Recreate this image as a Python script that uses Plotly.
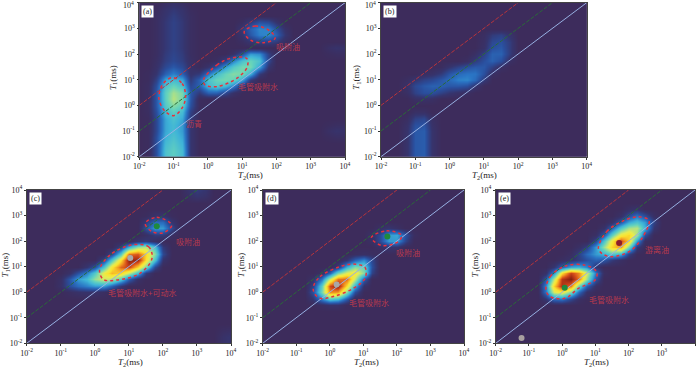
import plotly.graph_objects as go

# log10 grid of the maps, quarter-decade steps; rows below run from T1=10^4 down to 10^-2
LOG_T2 = [-2 + 0.25 * i for i in range(25)]
LOG_T1 = [4 - 0.25 * i for i in range(25)]

Z_A = [
    [0,0,0,2,4,2,0,0,0,0,0,0,0,0,0,0,0,0,0,0,0,0,0,0,0],
    [0,0,1,5,7,5,1,0,0,0,0,0,0,0,0,0,0,0,0,0,0,0,0,0,0],
    [0,0,2,6,9,6,2,0,0,0,0,0,0,0,0,0,0,0,0,0,0,0,0,0,0],
    [0,0,2,7,10,7,2,0,0,0,0,0,2,8,14,12,5,0,0,0,0,0,0,0,0],
    [0,0,2,7,10,7,2,0,0,0,0,0,8,18,25,24,14,4,0,0,0,0,0,0,0],
    [0,0,2,7,10,7,2,0,0,0,0,0,6,16,24,25,18,6,0,0,0,0,0,0,0],
    [0,0,2,7,10,7,2,0,0,0,0,0,2,6,10,10,8,2,0,0,0,0,0,0,0],
    [0,0,2,7,10,7,2,0,0,0,0,0,0,0,0,0,0,0,0,0,0,0,3,5,4],
    [0,0,2,8,11,8,2,0,0,0,0,4,14,28,26,10,0,0,0,0,0,0,1,2,2],
    [0,0,3,9,12,9,3,0,0,2,10,24,36,42,36,12,0,0,0,0,0,0,0,0,0],
    [0,0,4,12,16,12,4,0,5,14,28,38,44,44,30,6,0,0,0,0,0,0,0,0,0],
    [0,1,6,18,24,18,5,8,22,34,42,46,44,32,8,0,0,0,0,0,0,0,0,0,0],
    [0,1,10,30,34,30,8,18,36,42,44,42,30,8,0,0,0,0,0,0,0,0,0,0,0],
    [0,2,14,36,42,36,12,18,34,38,34,24,8,0,0,0,0,0,0,0,0,0,0,0,0],
    [0,2,16,40,50,44,16,8,18,18,12,4,0,0,0,0,0,0,0,0,0,0,0,0,0],
    [0,2,16,40,52,44,16,1,0,0,0,0,0,0,0,0,0,0,0,0,0,0,0,0,0],
    [0,2,16,38,46,40,14,1,0,0,0,0,0,0,0,0,0,0,0,0,0,0,0,0,0],
    [0,2,14,34,40,34,10,0,0,0,0,0,0,0,0,0,0,0,0,0,0,0,0,0,0],
    [0,1,12,30,36,30,8,0,0,0,0,0,0,0,0,0,0,0,0,0,0,0,0,0,0],
    [0,1,12,30,34,28,6,0,0,0,0,0,0,0,0,0,0,0,0,0,0,0,1,2,2],
    [0,1,12,30,34,28,6,0,0,0,0,0,0,0,0,0,0,0,0,0,0,0,3,5,4],
    [0,1,14,32,36,30,6,0,0,0,0,0,0,0,0,0,0,0,0,0,0,0,1,2,2],
    [0,1,14,34,38,32,6,0,0,0,0,0,0,0,0,0,0,0,0,0,0,0,0,0,0],
    [0,1,14,36,40,34,6,0,0,0,0,0,0,0,0,0,0,0,0,0,0,0,0,0,0],
    [0,1,14,36,40,34,6,0,0,0,0,0,0,0,0,0,0,0,0,0,0,0,0,0,0],
]

Z_B = [
    [0,0,0,0,0,0,0,0,0,0,0,0,0,0,0,0,0,0,0,0,0,0,0,0,0],
    [0,0,0,0,0,0,0,0,0,0,0,0,0,0,0,0,0,0,0,0,0,0,0,0,0],
    [0,0,0,0,0,0,0,0,0,0,0,0,0,0,0,0,0,0,0,0,0,0,0,0,0],
    [0,0,0,0,0,0,0,0,0,0,0,0,0,0,0,0,0,0,0,0,0,0,0,0,0],
    [0,0,0,0,0,0,0,0,0,0,0,0,0,0,0,0,0,0,0,0,0,0,0,0,0],
    [0,0,0,0,0,0,0,0,0,0,0,0,2,8,10,5,0,0,0,0,0,0,0,0,0],
    [0,0,0,0,0,0,0,0,0,0,0,0,3,12,14,8,0,0,0,0,0,0,0,0,0],
    [0,0,0,0,0,0,0,0,0,0,0,0,4,14,16,8,0,0,0,0,0,0,0,0,0],
    [0,0,0,0,0,0,0,0,0,0,0,3,10,18,18,8,0,0,0,0,0,0,0,0,0],
    [0,0,0,0,0,0,0,0,0,0,2,8,14,18,14,3,0,0,0,0,0,0,0,0,0],
    [0,0,0,0,0,0,0,1,6,10,14,16,16,10,3,0,0,0,0,0,0,0,0,0,0],
    [0,0,0,0,0,2,4,8,16,20,22,22,14,3,0,0,0,0,0,0,0,0,0,0,0],
    [0,0,0,2,6,10,12,16,20,24,25,20,8,0,0,0,0,0,0,0,0,0,0,0,0],
    [0,0,0,4,12,16,18,18,16,16,14,6,0,0,0,0,0,0,0,0,0,0,0,0,0],
    [0,0,0,3,10,14,14,10,6,4,2,0,0,0,0,0,0,0,0,0,0,0,0,0,0],
    [0,0,0,0,3,4,3,0,0,0,0,0,0,0,0,0,0,0,0,0,0,0,0,0,0],
    [0,0,0,0,0,0,0,0,0,0,0,0,0,0,0,0,0,0,0,0,0,0,0,0,0],
    [0,0,0,0,3,3,0,0,0,0,0,0,0,0,0,0,0,0,0,0,0,0,0,0,0],
    [0,0,0,2,10,12,3,0,0,0,0,0,0,0,0,0,0,0,0,0,0,0,0,0,0],
    [0,0,0,4,14,15,4,0,0,0,0,0,0,0,0,0,0,0,0,0,0,0,0,0,0],
    [0,0,0,5,16,17,5,0,0,0,0,0,0,0,0,0,0,0,0,0,0,0,0,0,0],
    [0,0,0,5,16,17,5,0,0,0,0,0,0,0,0,0,0,0,0,0,0,0,0,0,0],
    [0,0,0,5,16,17,5,0,0,0,0,0,0,0,0,0,0,0,0,0,0,0,0,0,0],
    [0,0,0,5,16,17,5,0,0,0,0,0,0,0,0,0,0,0,0,0,0,0,0,0,0],
    [0,0,0,5,16,17,5,0,0,0,0,0,0,0,0,0,0,0,0,0,0,0,0,0,0],
]

Z_C = [
    [0,0,0,0,0,0,0,0,0,0,0,0,0,0,0,0,0,0,0,5,8,6,0,0,0],
    [0,0,0,0,0,0,0,0,0,0,0,0,0,0,0,0,0,0,0,3,6,4,0,0,0],
    [0,0,0,0,0,0,0,0,0,0,0,0,0,0,0,0,0,0,0,0,0,0,0,0,0],
    [0,0,0,0,0,0,0,0,0,0,0,0,0,0,0,0,0,0,0,0,0,0,0,0,0],
    [0,0,0,0,0,0,0,0,0,0,0,0,0,0,1,5,6,1,0,0,0,0,0,0,0],
    [0,0,0,0,0,0,0,0,0,0,0,0,0,0,8,20,20,6,0,0,0,0,0,0,0],
    [0,0,0,0,0,0,0,0,0,0,0,0,0,0,14,28,28,12,0,0,0,0,0,0,0],
    [0,0,0,0,0,0,0,0,0,0,0,0,0,0,3,8,8,2,0,0,0,0,0,0,0],
    [0,0,0,0,0,0,0,0,0,0,0,0,0,6,8,3,0,0,0,0,0,0,0,0,0],
    [0,0,0,0,0,0,0,0,0,0,0,10,32,48,52,36,8,0,0,0,0,0,0,0,0],
    [0,0,0,0,0,0,0,0,0,0,12,38,80,84,68,46,12,0,0,0,0,0,0,0,0],
    [0,0,0,0,0,0,0,0,0,12,38,66,96,94,66,36,5,0,0,0,0,0,0,0,0],
    [0,0,0,0,0,0,0,6,14,36,64,82,88,68,44,12,0,0,0,0,0,0,0,0,0],
    [0,0,0,0,0,4,14,24,38,60,72,68,54,34,8,0,0,0,0,0,0,0,0,0,0],
    [0,0,0,0,3,16,28,34,48,56,52,38,18,4,0,0,0,0,0,0,0,0,0,0,0],
    [0,0,0,0,4,14,20,24,28,28,18,7,0,0,0,0,0,0,0,0,0,0,0,0,0],
    [0,0,0,0,0,2,4,5,4,2,0,0,0,0,0,0,0,0,0,0,0,0,0,0,0],
    [0,0,0,0,0,0,0,0,0,0,0,0,0,0,0,0,0,0,0,0,0,0,0,0,0],
    [0,0,0,0,0,0,0,0,0,0,0,0,0,0,0,0,0,0,0,0,0,0,0,0,0],
    [0,0,0,0,0,0,0,0,0,0,0,0,0,0,0,0,0,0,0,0,0,0,0,0,0],
    [0,0,0,0,0,0,0,0,0,0,0,0,0,0,0,0,0,0,0,0,0,0,0,0,0],
    [0,0,0,0,0,0,0,0,0,0,0,0,0,0,0,0,0,0,0,0,0,0,0,0,0],
    [0,0,0,0,0,0,0,0,0,0,0,0,0,0,0,0,0,0,0,0,0,0,0,2,3],
    [0,0,0,0,0,0,0,0,0,0,0,0,0,0,0,0,0,0,0,0,0,0,0,4,6],
    [0,0,0,0,0,0,0,0,0,0,0,0,0,0,0,0,0,0,0,0,0,0,0,4,6],
]

Z_D = [
    [0,0,0,0,0,0,0,0,0,0,0,0,0,0,0,0,0,0,0,0,0,0,0,0,0],
    [0,0,0,0,0,0,0,0,0,0,0,0,0,0,0,0,0,0,0,0,0,0,0,0,0],
    [0,0,0,0,0,0,0,0,0,0,0,0,0,0,0,0,0,0,0,0,0,0,0,0,0],
    [0,0,0,0,0,0,0,0,0,0,0,0,0,0,0,0,0,0,0,0,0,0,0,0,0],
    [0,0,0,0,0,0,0,0,0,0,0,0,0,0,0,0,0,0,0,0,0,0,0,0,0],
    [0,0,0,0,0,0,0,0,0,0,0,0,0,0,0,0,0,0,0,0,0,0,0,0,0],
    [0,0,0,0,0,0,0,0,0,0,0,0,0,0,3,6,3,0,0,0,0,0,0,0,0],
    [0,0,0,0,0,0,0,0,0,0,0,0,0,4,12,28,30,14,2,0,0,0,0,0,0],
    [0,0,0,0,0,0,0,0,0,0,0,0,0,3,12,28,28,10,0,0,0,0,0,0,0],
    [0,0,0,0,0,0,0,0,0,0,0,0,0,0,3,6,5,0,0,0,0,0,0,0,0],
    [0,0,0,0,0,0,0,0,0,0,0,2,3,2,0,0,0,0,0,0,0,0,0,0,0],
    [0,0,0,0,0,0,0,0,0,0,6,18,26,12,0,0,0,0,0,0,0,0,0,0,0],
    [0,0,0,0,0,0,0,0,0,8,32,46,42,14,0,0,0,0,0,0,0,0,0,0,0],
    [0,0,0,0,0,0,0,3,18,44,58,64,46,10,0,0,0,0,0,0,0,0,0,0,0],
    [0,0,0,0,0,0,4,22,54,80,82,54,18,0,0,0,0,0,0,0,0,0,0,0,0],
    [0,0,0,0,0,0,10,40,86,96,66,32,4,0,0,0,0,0,0,0,0,0,0,0,0],
    [0,0,0,0,0,0,14,44,78,76,46,14,0,0,0,0,0,0,0,0,0,0,0,0,0],
    [0,0,0,0,0,0,6,24,38,34,16,0,0,0,0,0,0,0,0,0,0,0,0,0,0],
    [0,0,0,0,0,0,0,2,4,4,0,0,0,0,0,0,0,0,0,0,0,0,0,0,0],
    [0,0,0,0,0,0,0,0,0,0,0,0,0,0,0,0,0,0,0,0,0,0,0,0,0],
    [0,0,0,0,0,0,0,0,0,0,0,0,0,0,0,0,0,0,0,0,0,0,0,0,0],
    [0,0,0,0,0,0,0,0,0,0,0,0,0,0,0,0,0,0,0,0,0,0,0,0,0],
    [0,0,0,0,0,0,0,0,0,0,0,0,0,0,0,0,0,0,0,0,0,0,0,0,0],
    [0,0,0,0,0,0,0,0,0,0,0,0,0,0,0,0,0,0,0,0,0,0,0,0,0],
    [0,0,0,0,0,0,0,0,0,0,0,0,0,0,0,0,0,0,0,0,0,0,0,0,0],
]

Z_E = [
    [0,0,0,0,0,0,0,0,0,0,0,0,0,0,0,0,0,0,0,0,0,0,0,0,0],
    [0,0,0,0,0,0,0,0,0,0,0,0,0,0,0,0,0,0,0,0,0,0,0,0,0],
    [0,0,0,0,0,0,0,0,0,0,0,0,0,0,0,0,0,0,0,0,0,0,0,0,0],
    [0,0,0,0,0,0,0,0,0,0,0,0,0,0,0,0,3,5,0,0,0,0,0,0,0],
    [0,0,0,0,0,0,0,0,0,0,0,0,0,0,0,4,14,22,14,3,0,0,0,0,0],
    [0,0,0,0,0,0,0,0,0,0,0,0,0,0,4,16,30,36,28,10,0,0,0,0,0],
    [0,0,0,0,0,0,0,0,0,0,0,0,0,4,18,38,50,52,32,6,0,0,0,0,0],
    [0,0,0,0,0,0,0,0,0,0,0,0,3,16,40,62,68,50,14,0,0,0,0,0,0],
    [0,0,0,0,0,0,0,0,0,0,0,0,12,36,62,86,68,28,2,0,0,0,0,0,0],
    [0,0,0,0,0,0,0,0,0,0,3,10,28,48,68,76,44,8,0,0,0,0,0,0,0],
    [0,0,0,0,0,0,0,0,0,2,10,20,28,32,38,32,10,0,0,0,0,0,0,0,0],
    [0,0,0,0,0,0,0,0,2,5,9,14,18,16,8,3,0,0,0,0,0,0,0,0,0],
    [0,0,0,0,0,0,0,6,18,30,32,25,6,0,0,0,0,0,0,0,0,0,0,0,0],
    [0,0,0,0,0,0,4,25,66,88,78,56,22,2,0,0,0,0,0,0,0,0,0,0,0],
    [0,0,0,0,0,0,15,52,90,98,80,48,15,0,0,0,0,0,0,0,0,0,0,0,0],
    [0,0,0,0,0,0,25,68,92,80,42,18,3,0,0,0,0,0,0,0,0,0,0,0,0],
    [0,0,0,0,0,0,22,56,62,45,20,4,0,0,0,0,0,0,0,0,0,0,0,0,0],
    [0,0,0,0,0,0,6,20,22,12,3,0,0,0,0,0,0,0,0,0,0,0,0,0,0],
    [0,0,0,0,0,0,0,0,0,0,0,0,0,0,0,0,0,0,0,0,0,0,0,0,0],
    [0,0,0,0,0,0,0,0,0,0,0,0,0,0,0,0,0,0,0,0,0,0,0,0,0],
    [0,0,0,0,0,0,0,0,0,0,0,0,0,0,0,0,0,0,0,0,0,0,0,0,0],
    [0,0,0,0,0,0,0,0,0,0,0,0,0,0,0,0,0,0,0,0,0,0,0,0,0],
    [0,0,0,0,0,0,0,0,0,0,0,0,0,0,0,0,0,0,0,0,0,0,0,0,0],
    [0,0,0,0,0,0,0,0,0,0,0,0,0,0,0,0,0,0,0,0,0,0,0,0,0],
    [0,0,0,0,0,0,0,0,0,0,0,0,0,0,0,0,0,0,0,0,0,0,0,0,0],
]

# dotted outlines, (log10 T2, log10 T1)
OUTLINES_A = [
    [(-1.04,1.08),(-0.75,0.85),(-0.65,0.34),(-0.75,-0.1),(-1.0,-0.4),(-1.27,-0.2),(-1.43,0.3),(-1.3,0.85)],
    [(-0.13,0.99),(0.26,1.57),(0.65,1.83),(1.13,1.83),(1.15,1.5),(0.84,1.05),(0.26,0.73),(-0.08,0.79)],
    [(1.06,2.87),(1.38,3.09),(1.81,2.9),(1.96,2.61),(1.62,2.44),(1.23,2.55)],
]
OUTLINES_C = [
    [(1.48,2.69),(1.82,2.93),(2.26,2.63),(2.02,2.33),(1.68,2.37)],
    [(1.09,1.85),(1.58,1.78),(1.68,1.32),(1.33,0.74),(0.65,0.48),(0.25,0.5),(0.14,0.87),(0.45,1.46)],
]
OUTLINES_D = [
    [(1.24,2.14),(1.69,2.4),(2.14,2.23),(2.04,1.98),(1.54,1.83)],
    [(-0.49,0.22),(-0.29,0.61),(0.3,1.0),(0.7,1.1),(1.05,0.97),(1.05,0.54),(0.7,0.15),(0.1,-0.17),(-0.29,-0.24),(-0.46,-0.04)],
]
OUTLINES_E = [
    [(1.09,1.72),(1.34,2.37),(1.89,2.82),(2.29,2.95),(2.61,2.82),(2.54,2.43),(2.09,1.65),(1.49,1.39),(1.19,1.52)],
    [(-0.49,0.09),(-0.36,0.61),(0.09,1.02),(0.69,1.06),(1.04,0.8),(0.99,0.48),(0.49,0.15),(0.09,-0.24),(-0.36,-0.17)],
]

# peak dots (T2, T1, colour)
PEAKS_C = [(66, 380, "#1f8a3c"), (11, 22, "#a8a8a8")]
PEAKS_D = [(52, 150, "#1f8a3c"), (1.6, 2, "#a8a8a8")]
PEAKS_E = [(1.2, 1.5, "#1f8a3c"), (52, 85, "#8c1c2c"), (0.06, 0.016, "#a8a0a0")]

# region labels (log10 T2, log10 T1, text)
LABELS_A = [(2.35, 2.29, "吸附油"), (1.47, 0.73, "毛管吸附水"), (-0.4, -0.7, "沥青")]
LABELS_C = [(2.75, 2.0, "吸附油"), (1.38, -0.02, "毛管吸附水+可动水")]
LABELS_D = [(2.33, 1.56, "吸附油"), (1.17, -0.42, "毛管吸附水")]
LABELS_E = [(2.86, 1.68, "游离油"), (1.42, -0.28, "毛管吸附水")]

TICK_POWERS = [-2, -1, 0, 1, 2, 3, 4]
# T1/T2 ratio lines
RATIOS = [(100, "#b8343c", "4px,1.5px"), (10, "#2a6a38", "4px,1.5px"), (1, "#97b0e2", "solid")]

COLORS = [
    [0.0, "#3d2c5c"], [0.06, "#36356f"], [0.14, "#2a4f9e"], [0.22, "#2a74c4"],
    [0.32, "#3fb4d8"], [0.42, "#66d4bc"], [0.5, "#a8e08c"], [0.58, "#e8ec50"],
    [0.66, "#fbe32e"], [0.76, "#f49a22"], [0.86, "#d2481a"], [0.94, "#9c2a14"],
    [1.0, "#6e1c10"],
]
SERIF = "Liberation Serif"
CJK = "Noto Sans CJK SC"
W, H = 700, 372

# panel name, left, right, top, bottom in px, title shifts, then its data
PANELS = [
    ("(a)", 139.3, 345, 2.7, 156.7, 8, -26, Z_A, OUTLINES_A, [], LABELS_A),
    ("(b)", 381, 586.7, 2.7, 156.7, 1, -24, Z_B, [], [], []),
    ("(c)", 26.7, 231, 190, 343.3, 2, -21, Z_C, OUTLINES_C, PEAKS_C, LABELS_C),
    ("(d)", 262.7, 464, 190, 343.3, 3, -21, Z_D, OUTLINES_D, PEAKS_D, LABELS_D),
    ("(e)", 495.7, 695, 190, 343.3, 1, -20, Z_E, OUTLINES_E, PEAKS_E, LABELS_E),
]

fig = go.Figure()
layout = {}
tickvals = [10.0**p for p in TICK_POWERS]
ticktext = ["10<sup>%d</sup>" % p for p in TICK_POWERS]
title_font = dict(family=SERIF, size=9, color="#222222")
tick_font = dict(family=SERIF, size=8, color="#222222")

for n, (name, left, right, top, bottom, xt, yt, z, outlines, peaks, labels) in enumerate(PANELS):
    sfx = "" if n == 0 else str(n + 1)
    xa, ya = "x" + sfx, "y" + sfx

    fig.add_trace(go.Heatmap(
        x=[10**v for v in LOG_T2], y=[10**v for v in LOG_T1], z=z,
        colorscale=COLORS, zmin=0, zmax=100, zsmooth="best", showscale=False,
        xaxis=xa, yaxis=ya,
    ))

    for ratio, color, dash in RATIOS:
        fig.add_trace(go.Scatter(
            x=[0.01, 10000 / ratio], y=[0.01 * ratio, 10000], mode="lines",
            line=dict(color=color, width=1, dash=dash),
            showlegend=False, xaxis=xa, yaxis=ya,
        ))

    for pts in outlines:
        closed = pts + pts[:1]
        fig.add_trace(go.Scatter(
            x=[10**p[0] for p in closed], y=[10**p[1] for p in closed], mode="lines",
            line=dict(color="#e8303c", width=1.5, dash="dot", shape="spline"),
            showlegend=False, xaxis=xa, yaxis=ya,
        ))

    if peaks:
        fig.add_trace(go.Scatter(
            x=[p[0] for p in peaks], y=[p[1] for p in peaks], mode="markers",
            marker=dict(color=[p[2] for p in peaks], size=6),
            showlegend=False, xaxis=xa, yaxis=ya,
        ))

    axis = dict(
        type="log", tickmode="array", tickvals=tickvals, ticktext=ticktext,
        ticks="outside", ticklen=2, tickwidth=0.6, tickcolor="#333333", automargin=False,
        showgrid=False, zeroline=False, showline=True, linecolor="#444444", linewidth=0.6,
        mirror=True, tickfont=tick_font,
    )
    layout["xaxis" + sfx] = dict(axis, domain=[left / W, right / W], range=[-2, 4], anchor=ya)
    layout["yaxis" + sfx] = dict(axis, domain=[1 - bottom / H, 1 - top / H], range=[-2, 4], anchor=xa)

    # top tick label of the upper row gets lost at the page edge, so place it by hand
    if top < 10:
        layout["yaxis" + sfx]["ticktext"] = ticktext[:-1] + [""]
        fig.add_annotation(
            x=0, y=1, xref=xa + " domain", yref=ya + " domain", text=ticktext[-1],
            showarrow=False, xanchor="right", yanchor="middle", xshift=-3, yshift=-2, font=tick_font,
        )

    # axis titles as annotations, the built-in ones collide between panels
    fig.add_annotation(
        x=0.5, y=0, xref=xa + " domain", yref=ya + " domain", text="<i>T</i><sub>2</sub>(ms)",
        showarrow=False, xanchor="center", yanchor="middle", xshift=xt, yshift=-19, font=title_font,
    )
    fig.add_annotation(
        x=0, y=0.5, xref=xa + " domain", yref=ya + " domain", text="<i>T</i><sub>1</sub>(ms)",
        showarrow=False, textangle=-90, xanchor="center", yanchor="middle", xshift=yt, yshift=2, font=title_font,
    )
    fig.add_annotation(
        x=0, y=1, xref=xa + " domain", yref=ya + " domain", text=name, showarrow=False,
        xanchor="left", yanchor="top", xshift=2, yshift=-2, bgcolor="#ffffff", borderpad=1,
        font=dict(family=SERIF, size=8, color="#222222"),
    )
    for lx, ly, text in labels:
        fig.add_annotation(
            x=lx, y=ly, xref=xa, yref=ya, text=text, showarrow=False,
            font=dict(family=CJK, size=8, color="#b83a4c"),
        )

fig.update_layout(
    width=W, height=H, margin=dict(l=0, r=0, t=0, b=0),
    paper_bgcolor="#ffffff", plot_bgcolor="#3d2c5c", showlegend=False,
    **layout,
)
# default page margin would shift the whole figure
fig.write_html("out.html", config={"displayModeBar": False},
               post_script="document.body.style.margin='0';")
